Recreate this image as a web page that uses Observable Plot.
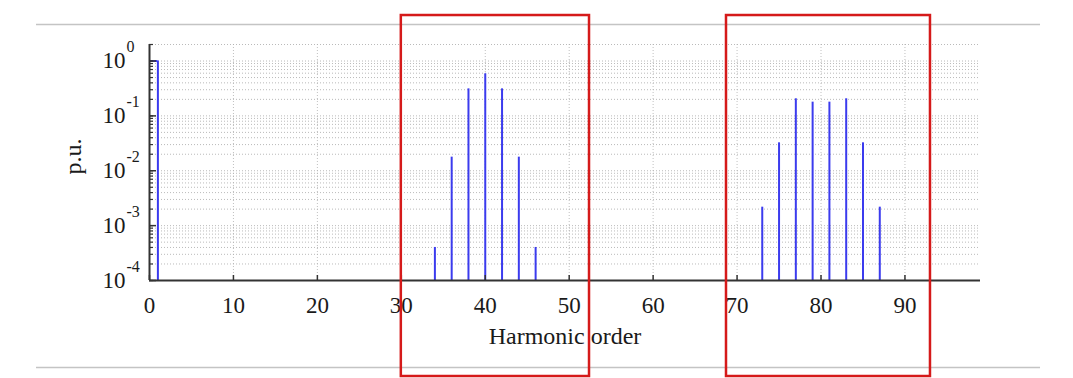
<!DOCTYPE html>
<html>
<head>
<meta charset="utf-8">
<script src="https://cdn.jsdelivr.net/npm/d3@7"></script>
<script src="https://cdn.jsdelivr.net/npm/@observablehq/plot@0.6"></script>
<style>
  html, body { margin: 0; padding: 0; background: #fff; }
  svg { display: block; }
</style>
</head>
<body>
<div id="chart"></div>
<script>
// ---- data ----
const harmonicOrder = [1, 34, 36, 38, 40, 42, 44, 46, 73, 75, 77, 79, 81, 83, 85, 87];
const harmonicPU    = [1, 4e-4, 0.0177, 0.311, 0.585, 0.311, 0.0177, 4e-4,
                       0.00217, 0.0323, 0.205, 0.178, 0.178, 0.205, 0.0323, 0.00217];
const xTickValues = [0, 10, 20, 30, 40, 50, 60, 70, 80, 90];
const yTickExponents = [0, -1, -2, -3, -4];
const xLabel = "Harmonic order";
const yLabel = "p.u.";
// highlight boxes (harmonic-order span)
const boxFrom = [30.0, 68.74];
const boxTo   = [52.42, 93.04];

const data = harmonicOrder.map((h, i) => ({order: h, pu: harmonicPU[i]}));
const boxes = boxFrom.map((a, i) => ({x1: a, x2: boxTo[i]}));

const yMin = 1e-4, yMax = 2;
const yMajor = yTickExponents.map(e => 10 ** e);
const yMinor = [];
for (let e = -4; e <= 0; e++) for (let k = 1; k <= 9; k++) {
  const v = k * 10 ** e;
  if (v <= yMax + 1e-9) yMinor.push(+v.toPrecision(3));
}

const W = 1073, H = 378;
const mL = 149, mR = 93, mT = 44, mB = 98;
const fw = W - mL - mR, fh = H - mT - mB;
const serif = "'Liberation Serif', 'Times New Roman', serif";
const blue = "#3b3bee";
const axisColor = "#333";

const plot = Plot.plot({
  width: W, height: H,
  marginLeft: mL, marginRight: mR, marginTop: mT, marginBottom: mB,
  style: {background: "#fff", fontFamily: serif, overflow: "visible"},
  x: {domain: [0, 99], axis: null},
  y: {type: "log", domain: [yMin, yMax], axis: null},
  marks: [
    // outer page rules (top & bottom)
    Plot.ruleY([4.63, 2.6e-6], {x1: -13.46, x2: 106.15, stroke: "#c4c4c4", strokeWidth: 1.5}),
    // grid
    Plot.ruleY(yMinor.filter(v => v > yMin), {stroke: "#a8a8a8", strokeWidth: 0.8, strokeDasharray: "1,2"}),
    Plot.ruleX(xTickValues.filter(v => v > 0), {stroke: "#b0b0b0", strokeWidth: 0.8, strokeDasharray: "1,2"}),
    // spectrum stems
    Plot.ruleX(data, {x: "order", y1: yMin, y2: "pu", stroke: blue, strokeWidth: 2}),
    Plot.ruleY(data.filter(d => d.order === 1), {x1: 0, x2: "order", y: "pu", stroke: blue, strokeWidth: 2}),
    // axes lines
    Plot.ruleX([0], {y1: yMin, y2: yMax, stroke: axisColor, strokeWidth: 2}),
    Plot.ruleY([yMin], {x1: 0, x2: 99, stroke: axisColor, strokeWidth: 2}),
    // inward ticks
    Plot.tickY(yMajor, {y: d => d, insetRight: fw - 7, stroke: axisColor, strokeWidth: 1.5}),
    Plot.tickY(yMinor, {y: d => d, insetRight: fw - 4, stroke: axisColor, strokeWidth: 1.2}),
    Plot.tickX(xTickValues, {x: d => d, insetTop: fh - 5, stroke: axisColor, strokeWidth: 1.5}),
    // y tick labels 10^e
    Plot.text(yTickExponents, {y: d => 10 ** d, frameAnchor: "left", text: () => "10",
      textAnchor: "end", lineAnchor: "middle", dx: -24, fontSize: 23, fill: "#1a1a1a", fontFamily: serif}),
    Plot.text(yTickExponents, {y: d => 10 ** d, frameAnchor: "left", text: d => String(d),
      textAnchor: "start", lineAnchor: "bottom", dx: -23, dy: -9, fontSize: 16, fill: "#1a1a1a", fontFamily: serif}),
    // x tick labels
    Plot.text(xTickValues, {x: d => d, frameAnchor: "bottom", text: d => String(d),
      lineAnchor: "top", dy: 16, fontSize: 23, fill: "#1a1a1a", fontFamily: serif}),
    // axis titles
    Plot.text([xLabel], {frameAnchor: "bottom", text: d => d, lineAnchor: "bottom", dy: 63,
      fontSize: 24, fill: "#1a1a1a", fontFamily: serif}),
    Plot.text([yLabel], {frameAnchor: "left", text: d => d, rotate: -90, lineAnchor: "bottom", dx: -69, dy: 12,
      fontSize: 24, fill: "#1a1a1a", fontFamily: serif}),
    // red highlight boxes
    Plot.rect(boxes, {x1: "x1", x2: "x2", y1: 1.78e-6, y2: 6.75, fill: "none", stroke: "#d51a1a", strokeWidth: 2.5})
  ]
});
document.getElementById("chart").appendChild(plot);
</script>
</body>
</html>
